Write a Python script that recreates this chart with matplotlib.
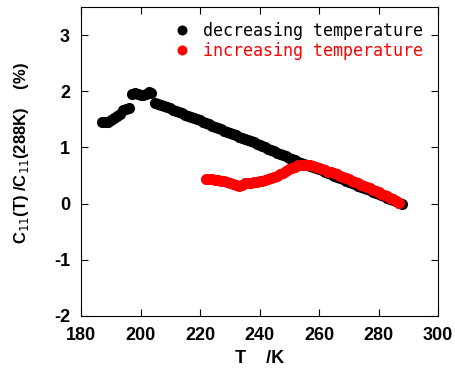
import numpy as np
import matplotlib
matplotlib.use("Agg")
import matplotlib.pyplot as plt

plt.rcParams['axes.unicode_minus'] = False

# decreasing temperature (black)
T_dec = [187, 188, 189, 190, 191, 192, 193, 194, 195, 196,
         197, 198, 199, 200, 201, 202, 203, 203.5,
         205, 206, 207, 208, 209, 210, 211, 212, 213, 214, 215, 216, 217, 218, 219, 220,
         221, 222, 223, 224, 225, 226, 227, 228, 229, 230, 231, 232, 233, 234, 235, 236,
         237, 238, 239, 240, 241, 242, 243, 244, 245, 246, 247, 248, 249, 250, 251, 252,
         253, 254, 255, 256, 257, 258, 259, 260, 261, 262, 263, 264, 265, 266, 267, 268,
         269, 270, 271, 272, 273, 274, 275, 276, 277, 278, 279, 280, 281, 282, 283, 284,
         285, 286, 287, 288]
C_dec = [1.45, 1.45, 1.46, 1.48, 1.52, 1.56, 1.60, 1.66, 1.68, 1.71,
         1.96, 1.97, 1.96, 1.94, 1.93, 1.95, 1.98, 1.97,
         1.79, 1.77, 1.75, 1.74, 1.72, 1.70, 1.67, 1.65, 1.63, 1.61, 1.58, 1.56, 1.54, 1.52, 1.50, 1.48,
         1.45, 1.43, 1.41, 1.39, 1.36, 1.34, 1.32, 1.30, 1.28, 1.26, 1.24, 1.22, 1.19, 1.17, 1.15, 1.13,
         1.11, 1.09, 1.06, 1.04, 1.02, 1.00, 0.98, 0.95, 0.93, 0.91, 0.89, 0.87, 0.84, 0.82, 0.80, 0.78,
         0.75, 0.73, 0.71, 0.69, 0.67, 0.65, 0.63, 0.61, 0.59, 0.57, 0.55, 0.52, 0.50, 0.48, 0.46, 0.43,
         0.41, 0.39, 0.37, 0.35, 0.32, 0.30, 0.28, 0.26, 0.24, 0.21, 0.19, 0.17, 0.15, 0.13, 0.10, 0.08,
         0.06, 0.04, 0.02, 0.00]

# increasing temperature (red)
T_inc = [222, 223, 224, 225, 226, 227, 228, 229, 230, 231, 232, 233, 234, 235, 236, 237,
         238, 239, 240, 241, 242, 243, 244, 245, 246, 247, 248, 249, 250, 251, 252, 253,
         254, 255, 256, 257, 258, 259, 260, 261, 262, 263, 264, 265, 266, 267, 268, 269,
         270, 271, 272, 273, 274, 275, 276, 277, 278, 279, 280, 281, 282, 283, 284, 285,
         286, 287]
C_inc = [0.44, 0.44, 0.43, 0.42, 0.42, 0.41, 0.40, 0.39, 0.37, 0.35, 0.33, 0.31, 0.34, 0.36, 0.37, 0.37,
         0.38, 0.39, 0.40, 0.41, 0.42, 0.44, 0.46, 0.48, 0.50, 0.52, 0.55, 0.58, 0.61, 0.64, 0.66, 0.68,
         0.69, 0.69, 0.69, 0.68, 0.67, 0.65, 0.63, 0.61, 0.59, 0.57, 0.56, 0.54, 0.52, 0.50, 0.47, 0.45,
         0.43, 0.41, 0.39, 0.37, 0.34, 0.32, 0.29, 0.27, 0.24, 0.22, 0.20, 0.18, 0.15, 0.13, 0.10, 0.08,
         0.05, 0.02]

xticks = [180, 200, 220, 240, 260, 280, 300]
yticks = [-2, -1, 0, 1, 2, 3]

fig = plt.figure(figsize=(4.56, 3.71), dpi=100)
ax = fig.add_axes([81/456, 1-316/371, (438-81)/456, (316-7)/371])

ax.plot(T_dec, C_dec, 'o', color='black', ms=8, mec='none', label='decreasing temperature')
ax.plot(T_inc, C_inc, 'o', color='red', ms=8, mec='none', label='increasing temperature')

ax.set_xlim(180, 300)
ax.set_ylim(-2, 3.5)
ax.set_xticks(xticks)
ax.set_yticks(yticks)
ax.tick_params(direction='in', top=True, right=True, length=5, width=0.8, pad=8)
for lab in ax.get_xticklabels() + ax.get_yticklabels():
    lab.set_fontfamily('Liberation Sans')
    lab.set_fontweight('bold')
    lab.set_fontsize(13)
for s in ax.spines.values():
    s.set_linewidth(0.8)

ax.set_xlabel('T    /K', fontfamily='Liberation Sans', fontweight='bold', fontsize=13, labelpad=4)
fig.text(22/456, 1-153/371, r'C$_{11}$(T) /C$_{11}$(288K)    (%)', rotation=90,
         ha='center', va='center', fontfamily='Liberation Sans', fontweight='bold', fontsize=12)

leg = ax.legend(loc='upper right', frameon=False, prop={'family': 'DejaVu Sans Mono', 'size': 12},
                handletextpad=0.75, borderaxespad=0.5, labelspacing=0.12, handlelength=1.0,
                markerscale=0.9)
leg.get_texts()[1].set_color('red')

fig.savefig('out.png', dpi=100)
